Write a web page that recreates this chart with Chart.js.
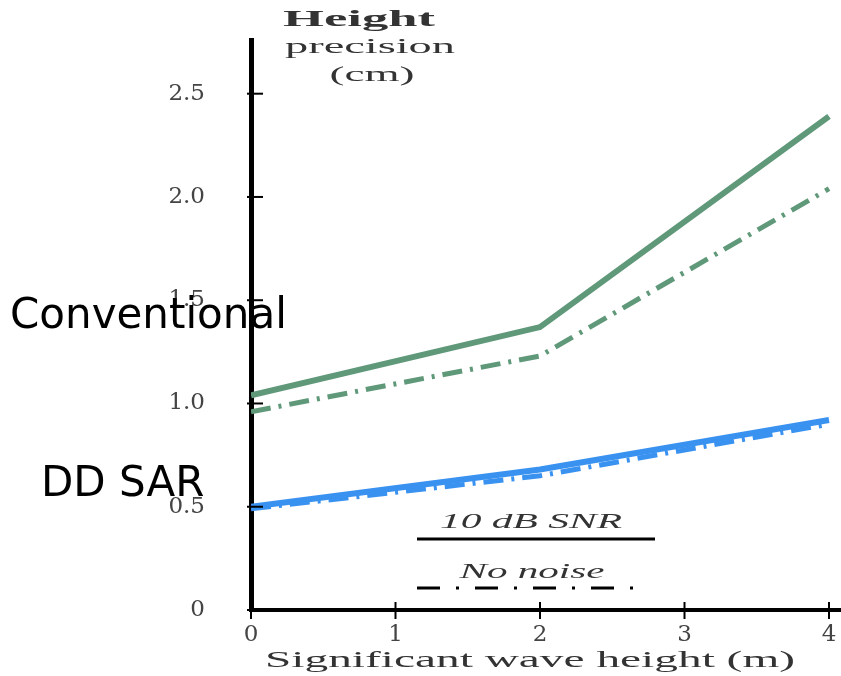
<!DOCTYPE html>
<html>
<head>
<meta charset="utf-8">
<script src="https://cdn.jsdelivr.net/npm/chart.js@4"></script>
<style>
  body { margin: 0; background: #fff; }
  #wrap { width: 841px; height: 676px; position: relative; }
</style>
</head>
<body>
<div id="wrap"><canvas id="myChart"></canvas></div>
<script>
// data
const waveHeights = [0, 2, 4];
const convNoisy = [1.04, 1.37, 2.39];
const convClean = [0.96, 1.23, 2.04];
const ddNoisy = [0.5, 0.68, 0.92];
const ddClean = [0.49, 0.65, 0.9];
const xTicks = [0, 1, 2, 3, 4];
const yTicks = [0, 0.5, 1, 1.5, 2, 2.5];
const yTickLabels = ["0", "0.5", "1.0", "1.5", "2.0", "2.5"];

const green = "rgb(96,152,122)";
const blue = "rgb(58,146,240)";
const toPts = (ys) => waveHeights.map((h, i) => ({ x: h, y: ys[i] }));

// draw text squeezed/stretched to a given width
function fitText(ctx, txt, cx, cy, w, font) {
  ctx.save();
  ctx.font = font;
  const m = ctx.measureText(txt).width;
  ctx.translate(cx, cy);
  ctx.scale(w / m, 1);
  ctx.textAlign = "center";
  ctx.textBaseline = "middle";
  ctx.fillText(txt, 0, 0);
  ctx.restore();
}

// tick marks, titles, legend, labels
const extras = {
  id: "extras",
  afterDraw(chart) {
    const ctx = chart.ctx;
    const xs = chart.scales.x;
    const ys = chart.scales.y;
    const area = chart.chartArea;
    ctx.save();
    ctx.strokeStyle = "#000";
    ctx.lineWidth = 2;
    yTicks.forEach((v) => {
      const py = ys.getPixelForValue(v);
      ctx.beginPath();
      ctx.moveTo(area.left - 4, py);
      ctx.lineTo(area.left + 12, py);
      ctx.stroke();
    });
    xTicks.forEach((v) => {
      const px = xs.getPixelForValue(v);
      ctx.beginPath();
      ctx.moveTo(px, area.bottom - 8);
      ctx.lineTo(px, area.bottom + 9);
      ctx.stroke();
    });

    // axis titles
    ctx.fillStyle = "#333";
    fitText(ctx, "Height", 359, 20, 152, "bold 23px 'Liberation Serif'");
    fitText(ctx, "precision", 370, 47, 170, "21px 'Liberation Serif'");
    fitText(ctx, "(cm)", 372, 75, 85, "21px 'Liberation Serif'");
    fitText(ctx, "Significant wave height (m)", 530, 661, 530, "23px 'Liberation Serif'");

    // legend
    fitText(ctx, "10 dB SNR", 531, 522, 182, "italic 21px 'Liberation Serif'");
    fitText(ctx, "No noise", 532, 572, 145, "italic 21px 'Liberation Serif'");
    ctx.strokeStyle = "#000";
    ctx.lineWidth = 3;
    ctx.beginPath();
    ctx.moveTo(417, 539);
    ctx.lineTo(655, 539);
    ctx.stroke();
    ctx.setLineDash([23, 16, 3, 16]);
    ctx.beginPath();
    ctx.moveTo(417, 588);
    ctx.lineTo(642, 588);
    ctx.stroke();
    ctx.setLineDash([]);

    // series labels
    ctx.fillStyle = "#000";
    ctx.font = "42px 'DejaVu Sans'";
    ctx.textAlign = "left";
    ctx.textBaseline = "alphabetic";
    ctx.fillText("Conventional", 10, 328);
    ctx.fillText("DD SAR", 41, 496);
    ctx.restore();
  },
};

const ctx = document.getElementById("myChart");

new Chart(ctx, {
  type: "line",
  data: {
    datasets: [
      { data: toPts(convNoisy), borderColor: green, borderWidth: 6 },
      { data: toPts(convClean), borderColor: green, borderWidth: 5, borderDash: [20, 8, 3, 8] },
      { data: toPts(ddNoisy), borderColor: blue, borderWidth: 6 },
      { data: toPts(ddClean), borderColor: blue, borderWidth: 5, borderDash: [20, 8, 3, 8] },
    ],
  },
  options: {
    responsive: true,
    maintainAspectRatio: false,
    animation: false,
    layout: { padding: { top: 40, left: 0, right: 0, bottom: 0 } },
    elements: { point: { radius: 0 }, line: { tension: 0 } },
    scales: {
      x: {
        type: "linear",
        min: 0,
        max: 4.083,
        afterBuildTicks: (s) => { s.ticks = xTicks.map((v) => ({ value: v })); },
        afterFit: (s) => { s.height = 66; s.paddingLeft = 0; s.paddingRight = 0; },
        grid: { display: false, drawTicks: false },
        border: { color: "#000", width: 4 },
        ticks: {
          color: "#444",
          padding: 11,
          maxRotation: 0,
          font: { family: "DejaVu Serif", size: 23 },
        },
      },
      y: {
        min: 0,
        max: 2.76,
        afterBuildTicks: (s) => { s.ticks = yTicks.map((v) => ({ value: v })); },
        afterFit: (s) => { s.width = 251; s.paddingTop = 0; s.paddingBottom = 0; },
        grid: { display: false, drawTicks: false },
        border: { color: "#000", width: 5 },
        ticks: {
          color: "#444",
          padding: 46,
          font: { family: "DejaVu Serif", size: 23 },
          callback: (v) => yTickLabels[yTicks.indexOf(v)],
        },
      },
    },
    plugins: {
      legend: { display: false },
      tooltip: { enabled: false },
    },
  },
  plugins: [extras],
});
</script>
</body>
</html>
